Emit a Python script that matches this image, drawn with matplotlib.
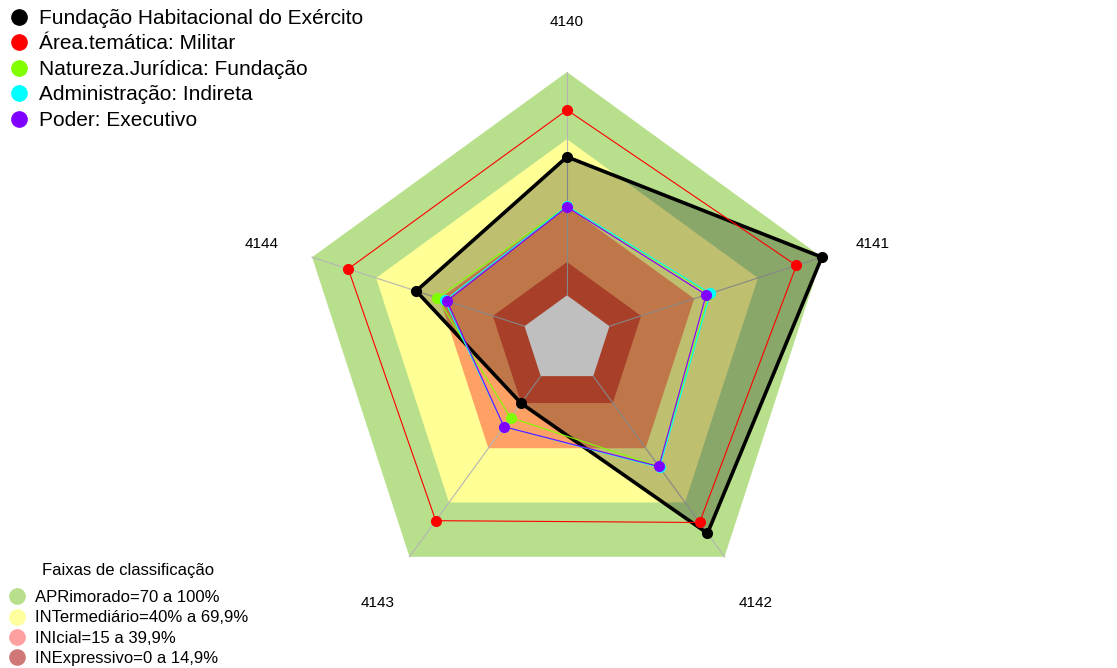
import numpy as np
import matplotlib
matplotlib.use('Agg')
import matplotlib.pyplot as plt
from matplotlib.lines import Line2D

plt.rcParams['font.family'] = ['Liberation Sans', 'DejaVu Sans']

# ---------------- data ----------------
axis_labels = ['4140', '4141', '4142', '4143', '4144']
series_names = ['Fundação Habitacional do Exército', 'Área.temática: Militar',
                'Natureza.Jurídica: Fundação', 'Administração: Indireta',
                'Poder: Executivo']
fhe = [62, 100, 87, 15, 51]
area_militar = [83, 88, 81, 80, 83]
nat_fundacao = [40, 47, 50, 23, 41]
adm_indireta = [40, 47.5, 50.5, 28, 37.5]
poder_exec = [39.5, 45.5, 50, 28, 36.5]
series_values = [fhe, area_militar, nat_fundacao, adm_indireta, poder_exec]
series_colors = ['#000000', '#FF0000', '#80FF00', '#00FFFF', '#8000FF']

band_limits = [100, 69.9, 39.9, 14.9]
band_title = 'Faixas de classificação'
band_labels = ['APRimorado=70 a 100%', 'INTermediário=40% a 69,9%',
               'INIcial=15 a 39,9%', 'INExpressivo=0 a 14,9%']
band_fill = ['#B8E08C', '#FFFF96', '#FFA064', '#E05538']
band_legend = ['#B8E08C', '#FFFF9E', '#FFA0A0', '#D07878']

# ---------------- geometry helpers ----------------
n = len(axis_labels)
theta = np.deg2rad(90 - 72 * np.arange(n))


def rad(v):
    v = np.asarray(v, dtype=float)
    return (1 + 5 * v / 100.0) / 6.0


def xy(vals):
    r = rad(vals)
    return r * np.cos(theta), r * np.sin(theta)


fig = plt.figure(figsize=(11.17, 6.68), dpi=100)
ax = fig.add_axes([0, 0, 1, 1])
R = 268.0
ax.set_xlim(-567 / R, 550 / R)
ax.set_ylim(-328 / R, 340 / R)
ax.axis('off')

# bands
for lim, col in zip(band_limits, band_fill):
    x, y = xy([lim] * n)
    ax.fill(x, y, color=col, lw=0, zorder=1)
x0, y0 = xy([0] * n)
ax.fill(x0, y0, color='white', lw=0, zorder=1.5)

# spokes
for t in theta:
    r0, r1 = rad(0), rad(100)
    ax.plot([r0 * np.cos(t), r1 * np.cos(t)], [r0 * np.sin(t), r1 * np.sin(t)],
            color='#B4B4B4', lw=0.8, zorder=2)

# axis labels
for t, lab in zip(theta, axis_labels):
    ax.text(1.2 * np.cos(t), 1.2 * np.sin(t) - 0.012, lab, ha='center', va='center',
            fontsize=11, zorder=5)

# series
for i, (vals, col) in enumerate(zip(series_values, series_colors)):
    x, y = xy(vals)
    xc = np.append(x, x[0])
    yc = np.append(y, y[0])
    if i == 0:
        ax.fill(x, y, color='black', alpha=0.25, lw=0, zorder=3)
        ax.plot(xc, yc, color=col, lw=2.6, zorder=4 + i * 0.1)
        ax.plot(x, y, 'o', color=col, ms=7, zorder=4 + i * 0.1)
    else:
        ax.plot(xc, yc, color=col, lw=0.8, zorder=4 + i * 0.1)
        ax.plot(x, y, 'o', color=col, ms=7, zorder=4 + i * 0.1)

# top legend
handles = [Line2D([], [], ls='none', marker='o', color=c, ms=11) for c in series_colors]
leg1 = ax.legend(handles, series_names, loc='upper left',
                 bbox_to_anchor=(9 / 1117, 1 - 9 / 668), frameon=False,
                 fontsize=15, handlelength=1.0, handletextpad=0.45,
                 labelspacing=0.31, borderpad=0, borderaxespad=0)
ax.add_artist(leg1)

# bottom legend
bh = [Line2D([], [], ls='none', marker='o', markerfacecolor=c,
             markeredgecolor=c, ms=11) for c in band_legend]
leg2 = ax.legend(bh, band_labels, loc='lower left',
                 bbox_to_anchor=(9 / 1117, 2 / 668), frameon=False,
                 fontsize=12, handlelength=1.0, handletextpad=0.55,
                 labelspacing=0.32, borderpad=0, borderaxespad=0)
fig.text(128 / 1117, 1 - 571 / 668, band_title, ha='center', va='center', fontsize=12)

fig.savefig('out.png', dpi=100)
